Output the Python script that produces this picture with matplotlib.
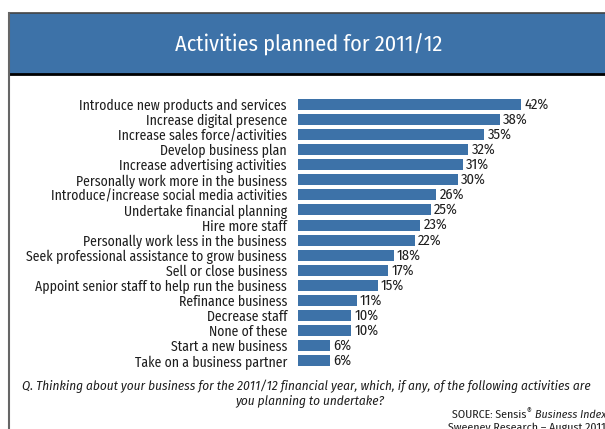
import matplotlib.pyplot as plt
from matplotlib.patches import Rectangle
from matplotlib.lines import Line2D

activities = [
    'Introduce new products and services',
    'Increase digital presence',
    'Increase sales force/activities',
    'Develop business plan',
    'Increase advertising activities',
    'Personally work more in the business',
    'Introduce/increase social media activities',
    'Undertake financial planning',
    'Hire more staff',
    'Personally work less in the business',
    'Seek professional assistance to grow business',
    'Sell or close business',
    'Appoint senior staff to help run the business',
    'Refinance business',
    'Decrease staff',
    'None of these',
    'Start a new business',
    'Take on a business partner',
]
percent = [42, 38, 35, 32, 31, 30, 26, 25, 23, 22, 18, 17, 15, 11, 10, 10, 6, 6]

blue = '#3d72a8'
ink = '#1e1e1e'
font = ['Fira Sans Condensed', 'DejaVu Sans']
W, H = 605, 429

fig = plt.figure(figsize=(W / 100, H / 100), dpi=100)

# title banner and frame
fig.patches.append(Rectangle((9 / W, 1 - 74 / H), 1, 61 / H, transform=fig.transFigure,
                             facecolor=blue, edgecolor='none'))
fig.add_artist(Line2D([9 / W, 1], [1 - 74 / H] * 2, color='black', lw=2))
fig.add_artist(Line2D([9 / W, 1], [1 - 13 / H] * 2, color='#444444', lw=1.2))
fig.add_artist(Line2D([9 / W] * 2, [0, 1 - 13 / H], color='#666666', lw=1.5))
fig.text(309 / W, 1 - 45 / H, 'Activities planned for 2011/12', color='white',
         fontsize=16, family=font, ha='center', va='center')

ax = fig.add_axes([298 / W, 1 - 370 / H, 266 / W, 274.8 / H])
y = range(len(percent))
ax.barh(y, percent, height=0.73, color=blue)
for i, v in enumerate(percent):
    ax.text(v + 0.6, i, f'{v}%', va='center', ha='left', fontsize=10.5, family=font, color=ink)
ax.set_xlim(0, 50)
ax.set_ylim(17.6, -0.6)
ax.set_yticks(list(y))
ax.set_yticklabels(activities, fontsize=9.9, family=font, color=ink)
ax.tick_params(axis='y', length=0, pad=8)
ax.set_xticks([])
for s in ax.spines.values():
    s.set_visible(False)

fig.text(306 / W, 1 - 386 / H,
         'Q. Thinking about your business for the 2011/12 financial year, which, if any, of the following activities are',
         fontsize=9.5, family=font, style='italic', ha='center', va='center', color=ink)
fig.text(310 / W, 1 - 402 / H, 'you planning to undertake?',
         fontsize=9.5, family=font, style='italic', ha='center', va='center', color=ink)

# source line built right to left: normal text, raised ®, italic title
r = fig.canvas.get_renderer()
x = 606
t = fig.text(x / W, 1 - 415 / H, 'Business Index', fontsize=8.5, family=font,
             style='italic', ha='right', va='center', color=ink)
x -= t.get_window_extent(r).width + 3
t = fig.text(x / W, 1 - 411 / H, '\u00ae', fontsize=6, family=font,
             ha='right', va='center', color=ink)
x -= t.get_window_extent(r).width
fig.text(x / W, 1 - 415 / H, 'SOURCE: Sensis', fontsize=8.5, family=font,
         ha='right', va='center', color=ink)
fig.text(606 / W, 1 - 428 / H, 'Sweeney Research \u2013 August 2011',
         fontsize=8.5, family=font, ha='right', va='center', color=ink)

fig.savefig('out.png', dpi=100)
